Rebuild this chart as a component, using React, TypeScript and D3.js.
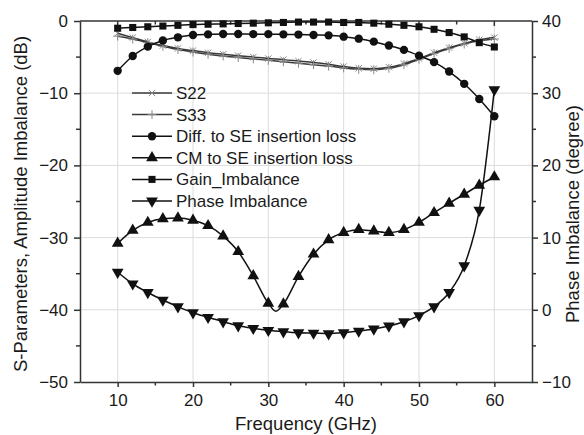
import React, { useEffect, useRef } from "react";
import * as d3 from "d3";

const freq = [10, 12, 14, 16, 18, 20, 22, 24, 26, 28, 30, 32, 34, 36, 38, 40, 42, 44, 46, 48, 50, 52, 54, 56, 58, 60];

const s22 = [-1.7, -2.3, -2.9, -3.4, -3.8, -4.1, -4.4, -4.6, -4.8, -5.0, -5.2, -5.35, -5.55, -5.75, -6.0, -6.3, -6.55, -6.6, -6.4, -5.9, -5.2, -4.4, -3.7, -3.1, -2.6, -2.3];
const s33 = [-2.1, -2.5, -3.0, -3.5, -3.95, -4.3, -4.6, -4.85, -5.05, -5.25, -5.45, -5.65, -5.85, -6.05, -6.25, -6.5, -6.7, -6.75, -6.55, -6.05, -5.3, -4.5, -3.8, -3.2, -2.75, -2.5];
const diffLoss = [-6.9, -4.85, -3.55, -2.7, -2.26, -1.94, -1.85, -1.8, -1.8, -1.82, -1.82, -1.85, -1.88, -1.94, -1.99, -2.17, -2.45, -2.86, -3.4, -4.0, -4.8, -5.7, -7.0, -8.7, -10.8, -13.2];
const gainImb = [-1.0, -0.9, -0.8, -0.7, -0.6, -0.5, -0.45, -0.4, -0.35, -0.3, -0.25, -0.2, -0.15, -0.15, -0.15, -0.2, -0.2, -0.3, -0.45, -0.6, -0.8, -1.15, -1.6, -2.2, -3.0, -3.6];

// CM curve has its notch at 31 GHz, between two markers
const cmFreq = [10, 12, 14, 16, 18, 20, 22, 24, 26, 28, 30, 31, 32, 34, 36, 38, 40, 42, 44, 46, 48, 50, 52, 54, 56, 58, 60];
const cmLoss = [-30.8, -29.0, -27.9, -27.4, -27.3, -27.6, -28.35, -29.8, -31.95, -35.3, -39.1, -40.2, -39.2, -35.4, -32.3, -30.3, -29.3, -28.9, -29.1, -29.3, -28.9, -27.9, -26.55, -25.25, -24.0, -22.75, -21.6];

// phase imbalance, right axis (degree)
const phaseImb = [5.2, 3.6, 2.4, 1.35, 0.43, -0.4, -1.04, -1.65, -2.2, -2.56, -2.84, -3.03, -3.17, -3.22, -3.3, -3.17, -2.94, -2.66, -2.24, -1.65, -0.8, 0.43, 2.4, 6.1, 13.8, 30.5];

const leftTicks = [0, -10, -20, -30, -40, -50];
const rightTicks = [40, 30, 20, 10, 0, -10];
const xTicks = [10, 20, 30, 40, 50, 60];

const legendLabels = ["S22", "S33", "Diff. to SE insertion loss", "CM to SE insertion loss", "Gain_Imbalance", "Phase Imbalance"];

const App = () => {
  const svgRef = useRef<SVGSVGElement | null>(null);

  useEffect(() => {
    const width = 584;
    const height = 435;
    const marginLeft = 80;
    const marginRight = 52;
    const marginTop = 21;
    const marginBottom = 53;
    const font = "'Liberation Sans', Arial, sans-serif";

    const x = d3.scaleLinear().domain([5, 65]).range([marginLeft, width - marginRight]);
    const y = d3.scaleLinear().domain([-50, 0]).range([height - marginBottom, marginTop]);
    const y2 = d3.scaleLinear().domain([-10, 40]).range([height - marginBottom, marginTop]);

    const svg = d3.select(svgRef.current).attr("viewBox", [0, 0, width, height]).attr("width", width).attr("height", height);
    svg.selectAll("*").remove();

    svg.append("rect").attr("width", width).attr("height", height).attr("fill", "white");

    // grid
    const grid = svg.append("g").attr("stroke", "#dcdcdc").attr("stroke-width", 1);
    xTicks.forEach((t) => {
      grid.append("line").attr("x1", x(t)).attr("x2", x(t)).attr("y1", y(0)).attr("y2", y(-50));
    });
    [-10, -20, -30, -40].forEach((t) => {
      grid.append("line").attr("x1", x(5)).attr("x2", x(65)).attr("y1", y(t)).attr("y2", y(t));
    });

    // axes
    const axisColor = "#333";
    const styleAxis = (g: any) => {
      g.select(".domain").attr("stroke", axisColor).attr("stroke-width", 1.5);
      g.selectAll(".tick line").attr("stroke", axisColor).attr("stroke-width", 1.5);
      g.selectAll(".tick text").attr("fill", "#1a1a1a").attr("font-family", font).attr("font-size", 17);
    };

    const bottom = svg
      .append("g")
      .attr("transform", `translate(0,${height - marginBottom})`)
      .call(d3.axisBottom(x).tickValues(xTicks).tickSize(5).tickSizeOuter(0).tickPadding(7).tickFormat(d3.format("d")));
    styleAxis(bottom);
    [15, 25, 35, 45, 55].forEach((v) => {
      bottom.append("line").attr("x1", x(v)).attr("x2", x(v)).attr("y1", 0).attr("y2", 3.5).attr("stroke", axisColor).attr("stroke-width", 1.5);
    });

    const top = svg.append("g").attr("transform", `translate(0,${marginTop})`);
    top.append("line").attr("x1", x(5)).attr("x2", x(65)).attr("stroke", axisColor).attr("stroke-width", 1.5);
    [10, 15, 20, 25, 30, 35, 40, 45, 50, 55, 60].forEach((v) => {
      top.append("line").attr("x1", x(v)).attr("x2", x(v)).attr("y1", 0).attr("y2", v % 10 === 0 ? 5 : 3.5).attr("stroke", axisColor).attr("stroke-width", 1.5);
    });

    const left = svg
      .append("g")
      .attr("transform", `translate(${marginLeft},0)`)
      .call(d3.axisLeft(y).tickValues(leftTicks).tickSize(6).tickSizeOuter(0).tickPadding(6).tickFormat(d3.format("d")));
    styleAxis(left);
    [-5, -15, -25, -35, -45].forEach((v) => {
      left.append("line").attr("x1", 0).attr("x2", -4).attr("y1", y(v)).attr("y2", y(v)).attr("stroke", axisColor).attr("stroke-width", 1.5);
    });

    const right = svg
      .append("g")
      .attr("transform", `translate(${width - marginRight},0)`)
      .call(d3.axisRight(y2).tickValues(rightTicks).tickSize(6).tickSizeOuter(0).tickPadding(4).tickFormat(d3.format("d")));
    styleAxis(right);
    [35, 25, 15, 5, -5].forEach((v) => {
      right.append("line").attr("x1", 0).attr("x2", 4).attr("y1", y2(v)).attr("y2", y2(v)).attr("stroke", axisColor).attr("stroke-width", 1.5);
    });

    // axis titles
    const title = (text: string, transform: string) =>
      svg
        .append("text")
        .attr("transform", transform)
        .attr("text-anchor", "middle")
        .attr("font-family", font)
        .attr("font-size", 18.5)
        .attr("fill", "#1a1a1a")
        .text(text);
    title("Frequency (GHz)", `translate(${(marginLeft + width - marginRight) / 2},430)`);
    title("S-Parameters, Amplitude Imbalance (dB)", `translate(27,204) rotate(-90)`);
    title("Phase Imbalance (degree)", `translate(579,214) rotate(-90)`);

    // series
    const line = d3
      .line<[number, number]>()
      .x((d) => d[0])
      .y((d) => d[1])
      .curve(d3.curveMonotoneX);

    const sym = (type: any, size: number) => d3.symbol().type(type).size(size)();

    type Series = {
      xs: number[];
      ys: number[];
      yScale: (v: number) => number;
      marker: string;
      stroke: string;
    };
    const series: Series[] = [
      { xs: freq, ys: s22, yScale: y, marker: "times", stroke: "#3a3a3a" },
      { xs: freq, ys: s33, yScale: y, marker: "plus", stroke: "#3a3a3a" },
      { xs: freq, ys: diffLoss, yScale: y, marker: "circle", stroke: "#111" },
      { xs: cmFreq, ys: cmLoss, yScale: y, marker: "triUp", stroke: "#111" },
      { xs: freq, ys: gainImb, yScale: y, marker: "square", stroke: "#111" },
      { xs: freq, ys: phaseImb, yScale: y2, marker: "triDown", stroke: "#111" },
    ];

    const drawMarker = (g: any, kind: string, cx: number, cy: number) => {
      if (kind === "times" || kind === "plus") {
        g.append("path")
          .attr("d", sym(kind === "times" ? d3.symbolTimes : d3.symbolPlus, 28))
          .attr("transform", `translate(${cx},${cy})`)
          .attr("fill", "none")
          .attr("stroke", "#888")
          .attr("stroke-width", 1);
        return;
      }
      let d = "";
      let rot = 0;
      if (kind === "circle") d = sym(d3.symbolCircle, 55)!;
      if (kind === "square") d = sym(d3.symbolSquare, 50)!;
      if (kind === "triUp") d = sym(d3.symbolTriangle, 60)!;
      if (kind === "triDown") {
        d = sym(d3.symbolTriangle, 60)!;
        rot = 180;
      }
      g.append("path")
        .attr("d", d)
        .attr("transform", `translate(${cx},${cy}) rotate(${rot})`)
        .attr("fill", "#111");
    };

    const plot = svg.append("g");
    series.forEach((s) => {
      const pts: [number, number][] = s.xs.map((f, i) => [x(f), s.yScale(s.ys[i])]);
      plot.append("path").attr("d", line(pts)).attr("fill", "none").attr("stroke", s.stroke).attr("stroke-width", 1.5);
    });
    series.forEach((s) => {
      s.xs.forEach((f, i) => {
        if (f % 2 !== 0) return;
        drawMarker(plot, s.marker, x(f), s.yScale(s.ys[i]));
      });
    });

    // legend
    const legend = svg.append("g").attr("transform", `translate(132,93)`);
    legendLabels.forEach((label, i) => {
      const row = legend.append("g").attr("transform", `translate(0,${i * 21.6})`);
      row.append("line").attr("x1", 0).attr("x2", 40).attr("stroke", series[i].stroke).attr("stroke-width", 1.5);
      drawMarker(row, series[i].marker, 20, 0);
      row
        .append("text")
        .attr("x", 44)
        .attr("y", 6)
        .attr("font-family", font)
        .attr("font-size", 17)
        .attr("fill", "#1a1a1a")
        .text(label);
    });
  }, []);

  return (
    <div style={{ position: "absolute", left: 0, top: 0 }}>
      <svg ref={svgRef} style={{ display: "block" }}></svg>
    </div>
  );
};

export default App;
